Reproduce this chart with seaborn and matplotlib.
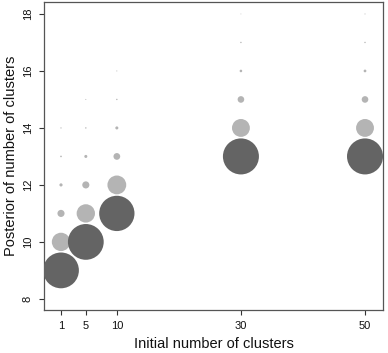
import numpy as np
import pandas as pd
import matplotlib
matplotlib.use("Agg")
import matplotlib.pyplot as plt
import seaborn as sns

# Initial number of clusters (x positions)
initial_clusters = [1, 5, 10, 30, 50]

# Posterior of number of clusters: candidate k values and their posterior probabilities
k_init1 = [9, 10, 11, 12, 13, 14]
p_init1 = [0.76, 0.20, 0.030, 0.0060, 0.0016, 0.0009]

k_init5 = [10, 11, 12, 13, 14, 15]
p_init5 = [0.76, 0.20, 0.030, 0.0055, 0.0012, 0.0006]

k_init10 = [11, 12, 13, 14, 15, 16]
p_init10 = [0.74, 0.21, 0.027, 0.0055, 0.0012, 0.0006]

k_init30 = [13, 14, 15, 16, 17, 18]
p_init30 = [0.77, 0.19, 0.026, 0.0040, 0.0012, 0.0004]

k_init50 = [13, 14, 15, 16, 17, 18]
p_init50 = [0.77, 0.19, 0.026, 0.0045, 0.0012, 0.0006]

x_ticks = [1, 5, 10, 30, 50]
y_ticks = [8, 10, 12, 14, 16, 18]

ks = [k_init1, k_init5, k_init10, k_init30, k_init50]
ps = [p_init1, p_init5, p_init10, p_init30, p_init50]
rows = []
for x0, kk, pp in zip(initial_clusters, ks, ps):
    pmax = max(pp)
    for k, p in zip(kk, pp):
        rows.append({"initial": x0, "k": k, "prob": p,
                     "mode": "mode" if p == pmax else "other"})
df = pd.DataFrame(rows)

sns.set_style("white")
plt.rcParams["font.family"] = ["Liberation Sans", "DejaVu Sans"]

fig = plt.figure(figsize=(3.88, 3.53), dpi=100)
ax = fig.add_axes([44 / 388, 1 - 310 / 353, (383 - 44) / 388, (310 - 2) / 353])

sns.scatterplot(data=df, x="initial", y="k", size="prob", hue="mode",
                sizes=(0, 873), size_norm=(0, 1),
                palette={"mode": "#646464", "other": "#b4b4b4"},
                linewidth=0, legend=False, ax=ax, zorder=3)

ax.set_xlim(-1.74, 52.9)
ax.set_ylim(7.61, 18.42)
ax.set_xticks(x_ticks)
ax.set_xticklabels([str(t) for t in x_ticks])
ax.set_yticks(y_ticks)
ax.set_yticklabels([str(t) for t in y_ticks], rotation=90, va="center")

for s in ax.spines.values():
    s.set_visible(True)
    s.set_color("#555555")
    s.set_linewidth(0.9)

ax.tick_params(axis="both", direction="out", length=3.6, width=0.8,
               color="#333333", labelsize=8, pad=4.5, labelcolor="#111111")
ax.tick_params(axis="x", bottom=True)
ax.tick_params(axis="y", left=True)

ax.set_xlabel("Initial number of clusters", fontsize=10.5, labelpad=4.5, color="#111111")
ax.set_ylabel("Posterior of number of clusters", fontsize=10.5, labelpad=3.5, color="#111111")

fig.savefig("out.png", dpi=100)
